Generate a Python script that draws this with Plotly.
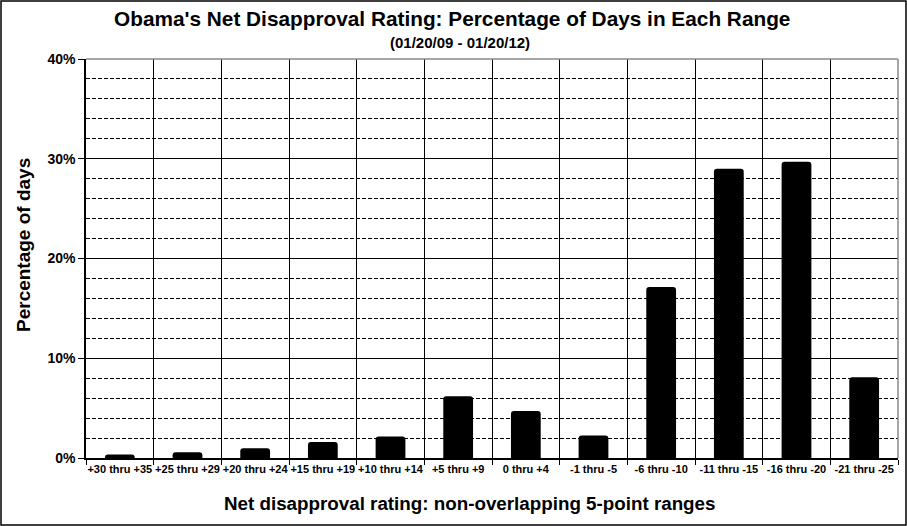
import plotly.graph_objects as go

# net disapproval ranges, left to right as in the original chart
ranges = ['+30 thru +35', '+25 thru +29', '+20 thru +24', '+15 thru +19', '+10 thru +14',
          '+5 thru +9', '0 thru +4', '-1 thru -5', '-6 thru -10', '-11 thru -15',
          '-16 thru -20', '-21 thru -25']
pct_days = [0.35, 0.58, 0.98, 1.6, 2.15, 6.2, 4.7, 2.25, 17.15, 29.0, 29.7, 8.1]

y_ticks = [0, 10, 20, 30, 40]
y_labels = ['0%', '10%', '20%', '30%', '40%']

font = 'Arial, Liberation Sans, sans-serif'

# margins (px) so the plot area lands where the original one is
ml, mr, mt, mb = 86, 9, 59, 68
W, H = 907, 526
pw, ph = W - ml - mr, H - mt - mb

fig = go.Figure()
fig.add_trace(go.Bar(x=ranges, y=pct_days,
                     marker=dict(color='black', line=dict(width=0), cornerradius=3),
                     hoverinfo='x+y'))

fig.update_layout(
    width=W, height=H,
    margin=dict(l=ml, r=mr, t=mt, b=mb),
    plot_bgcolor='white', paper_bgcolor='white',
    bargap=0.56,
    showlegend=False,
    font=dict(family=font, color='black'),
)
fig.update_xaxes(
    type='category',
    showline=True, linecolor='black', linewidth=1.5,
    showgrid=True, gridcolor='black', gridwidth=1.2,
    tickson='boundaries', ticks='outside', ticklen=5, tickcolor='black',
    tickfont=dict(size=11, family=font, weight='bold'),
    tickangle=0,
)
fig.update_yaxes(
    range=[0, 40],
    tickvals=y_ticks, ticktext=y_labels,
    showline=True, linecolor='black', linewidth=1.5,
    showgrid=True, gridcolor='black', gridwidth=1.2,
    ticks='outside', ticklen=6, tickcolor='black',
    tickfont=dict(size=14, family=font, weight='bold'),
    minor=dict(dtick=2, tick0=0, showgrid=True, gridcolor='black', gridwidth=1,
               griddash='4px,2px', ticks=''),
    zeroline=False,
)

# gray top/right edges of the plot area and black border around the whole chart
fig.add_shape(type='line', xref='paper', yref='paper', x0=0, x1=1, y0=1, y1=1,
              line=dict(color='#888888', width=1.5))
fig.add_shape(type='line', xref='paper', yref='paper', x0=1, x1=1, y0=0, y1=1,
              line=dict(color='#888888', width=1.5))
fig.add_shape(type='rect', xref='paper', yref='paper',
              x0=-(ml - 1) / pw, x1=1 + (mr - 1) / pw,
              y0=-(mb - 1) / ph, y1=1 + (mt - 1) / ph,
              line=dict(color='black', width=1.5), fillcolor='rgba(0,0,0,0)')

def label(text, px, py, size, angle=0):
    # px, py are pixel positions on the page, turned into paper coordinates
    fig.add_annotation(text=text, textangle=angle, showarrow=False,
                       xref='paper', yref='paper',
                       x=(px - ml) / pw, y=(H - mb - py) / ph,
                       xanchor='center', yanchor='middle',
                       font=dict(size=size, family=font, weight='bold'))

label("Obama's Net Disapproval Rating: Percentage of Days in Each Range", 452, 18, 20.8)
label('(01/20/09 - 01/20/12)', 460, 42, 15)
label('Percentage of days', 23, 245, 19, angle=-90)
label('Net disapproval rating: non-overlapping 5-point ranges', 470, 503, 18.8)

# drop the page's default body margin so the figure fills the window exactly
fig.write_html('out.html', config={'displayModeBar': False},
               post_script="document.body.style.margin='0';")
